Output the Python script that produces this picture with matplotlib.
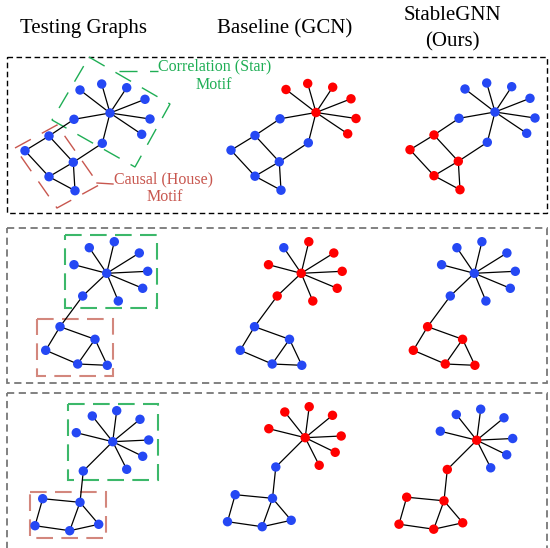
import matplotlib.pyplot as plt
from matplotlib.patches import Polygon, Rectangle

plt.rcParams['font.family'] = ['Liberation Serif', 'DejaVu Serif']

# Column titles
titulos = ["Testing Graphs", "Baseline (GCN)", "StableGNN\n(Ours)"]
titulo_x = [83, 285, 452]

# Node layouts of the test graph in each row (pixel coordinates)
nodos_1 = [(110, 113), (80, 90), (101.7, 84), (126.7, 87.7), (145, 99.3), (150, 119),
           (141.7, 134.3), (74, 119.3), (102.3, 143.3), (49, 136), (25, 150.7),
           (73.3, 162.3), (49, 176.7), (75, 190.7)]
aristas_1 = [(0, 1), (0, 2), (0, 3), (0, 4), (0, 5), (0, 6), (0, 7), (0, 8),
             (7, 9), (8, 11), (9, 10), (10, 12), (9, 11), (12, 11), (12, 13), (11, 13)]

nodos_2 = [(106.7, 273.3), (89.3, 247.7), (114.3, 241.7), (139.3, 253), (147.7, 271.3),
           (142.7, 288.3), (118.3, 301), (74, 264.7), (82.7, 296), (60, 326.7),
           (45.7, 350.3), (77.7, 364), (95, 339.3), (107.3, 365.3)]
aristas_2 = [(0, 1), (0, 2), (0, 3), (0, 4), (0, 5), (0, 6), (0, 7), (0, 8),
             (8, 9), (9, 10), (10, 11), (9, 12), (12, 11), (12, 13), (11, 13)]

nodos_3 = [(112.7, 441.7), (92.3, 416), (116.7, 410.7), (140, 419.3), (148.7, 440),
           (142.7, 456.3), (126.7, 469.3), (76.3, 432.7), (83.3, 471), (80, 502.3),
           (42.7, 498.7), (35, 525.7), (69.7, 530.7), (98.7, 524.3)]
aristas_3 = [(0, 1), (0, 2), (0, 3), (0, 4), (0, 5), (0, 6), (0, 7), (0, 8),
             (8, 9), (9, 10), (10, 11), (11, 12), (12, 9), (9, 13), (12, 13)]

# Predicted labels per column (1 = selected / red, 0 = blue)
etiquetas_1 = [[0] * 14,
               [1, 1, 1, 1, 1, 1, 1, 0, 0, 0, 0, 0, 0, 0],
               [0, 0, 0, 0, 0, 0, 0, 0, 0, 1, 1, 1, 1, 1]]
etiquetas_2 = [[0] * 14,
               [1, 0, 1, 1, 1, 1, 1, 1, 1, 0, 0, 0, 0, 0],
               [0, 0, 0, 0, 0, 0, 0, 0, 0, 1, 1, 1, 1, 1]]
etiquetas_3 = [[0] * 14,
               [1, 1, 1, 1, 1, 1, 1, 1, 0, 0, 0, 0, 0, 0],
               [1, 0, 0, 0, 0, 0, 0, 0, 1, 1, 1, 1, 1, 1]]

# Column shifts of the copies of each graph
desplaz_1 = [(0, 0), (206, -0.5), (385, -1)]
desplaz_2 = [(0, 0), (194.5, 0), (367.6, 0)]
desplaz_3 = [(0, 0), (192.5, -4), (364, -1.5)]

filas = [(nodos_1, aristas_1, etiquetas_1, desplaz_1),
         (nodos_2, aristas_2, etiquetas_2, desplaz_2),
         (nodos_3, aristas_3, etiquetas_3, desplaz_3)]

azul = "#2548f4"
rojo = "#ff0000"
verde = "#1fae55"
rojo_motivo = "#c8574f"

fig = plt.figure(figsize=(5.5, 5.48), dpi=100)
ax = fig.add_axes([0, 0, 1, 1])
ax.set_xlim(0, 550)
ax.set_ylim(548, 0)
ax.axis("off")

# Titles
for t, x in zip(titulos, titulo_x):
    ax.text(x, 29, t, ha="center", va="center", fontsize=15, linespacing=1.5)

# Panel borders
ax.add_patch(Rectangle((7.3, 57.3), 539.4, 155.7, fill=False, ec="black", lw=1,
                       ls=(0, (4, 2.5))))
ax.add_patch(Rectangle((7.3, 228.3), 539.4, 155, fill=False, ec="#777777", lw=1.3,
                       ls=(0, (4, 2.5))))
ax.add_patch(Rectangle((7.3, 393.3), 539.4, 170, fill=False, ec="#777777", lw=1.3,
                       ls=(0, (4, 2.5))))

# Motif boxes, row 1 (rotated)
ax.add_patch(Polygon([(89, 57), (170, 104), (135, 167), (52, 120)], closed=True,
                     fill=False, ec=verde, lw=1, ls=(0, (13, 9))))
ax.plot([119, 158], [71, 71], color=verde, lw=1, ls=(0, (13, 9)))
ax.add_patch(Polygon([(15, 148), (57, 125), (99, 185), (57, 208)], closed=True,
                     fill=False, ec=rojo_motivo, lw=1, ls=(0, (13, 9))))
ax.plot([97, 113], [183, 184], color=rojo_motivo, lw=1)

ax.text(215, 66, "Correlation (Star)", color=verde, fontsize=11.5, ha="center", va="center")
ax.text(214, 85, "Motif", color=verde, fontsize=11.5, ha="center", va="center")
ax.text(164, 179, "Causal (House)", color=rojo_motivo, fontsize=11.5, ha="center", va="center")
ax.text(165, 197, "Motif", color=rojo_motivo, fontsize=11.5, ha="center", va="center")

# Motif boxes, rows 2 and 3
verde_claro = "#3cb86a"
rojo_claro = "#d3877d"
for (x0, y0, x1, y1), c in [((65, 235, 156.7, 308.3), verde_claro),
                            ((37.3, 319, 113.3, 375.7), rojo_claro),
                            ((67.7, 404, 158.3, 480), verde_claro),
                            ((30, 491.7, 106, 538.3), rojo_claro)]:
    ax.add_patch(Rectangle((x0, y0), x1 - x0, y1 - y0, fill=False, ec=c, lw=1.5,
                           ls=(0, (8, 4))))

# Graphs
for nodos, aristas, etiquetas, desplaz in filas:
    for (dx, dy), lab in zip(desplaz, etiquetas):
        xs = [p[0] + dx for p in nodos]
        ys = [p[1] + dy for p in nodos]
        for a, b in aristas:
            ax.plot([xs[a], xs[b]], [ys[a], ys[b]], color="black", lw=0.9, zorder=2)
        colores = [rojo if v else azul for v in lab]
        ax.scatter(xs, ys, s=46, c=colores, zorder=3, linewidths=0)

fig.savefig("out.png", dpi=100)
